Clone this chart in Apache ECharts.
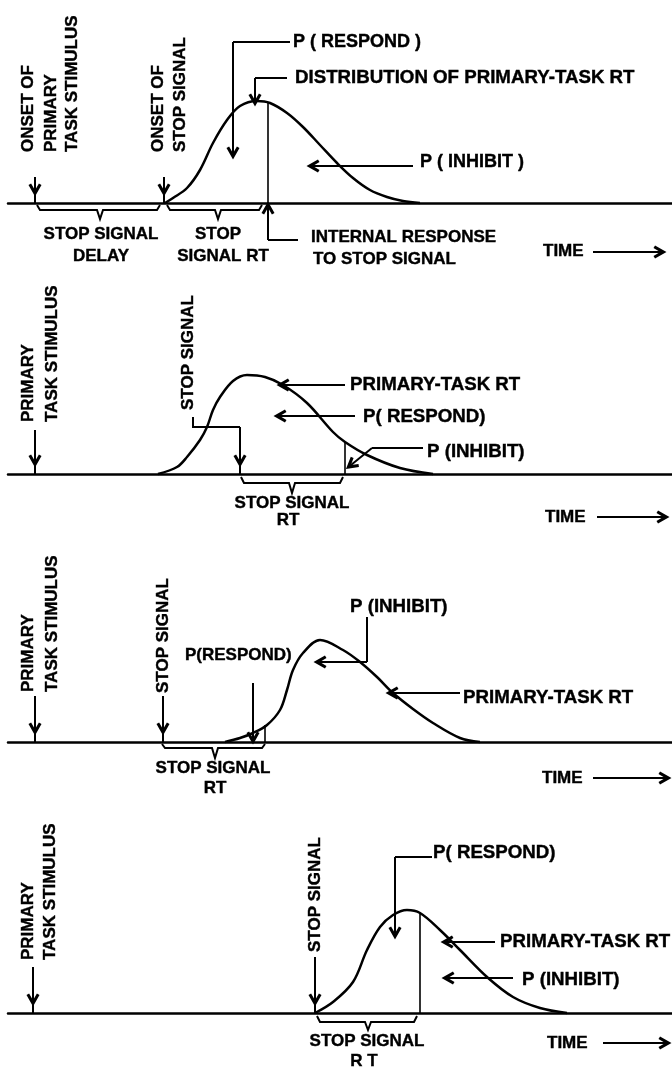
<!DOCTYPE html>
<html>
<head>
<meta charset="utf-8">
<title>Stop signal race model</title>
<script src="https://cdn.jsdelivr.net/npm/echarts@6/dist/echarts.min.js"></script>
<style>
  html, body { margin: 0; padding: 0; background: #fff; }
  #chart { width: 672px; height: 1069px; }
</style>
</head>
<body>
<div id="chart"></div>
<script>
// time runs left -> right (same scale in all four panels), height = relative density
const stimulusOnset = [35, 35, 35, 33];
const stopSignalOnset = [164, 240, 163, 315];
const internalResponse = [268, 345, 265, 420];
const responseHeight = [100, 32, 17, 100];

// primary-task RT distributions
const rtCurve1 = [[165,0],[173,5],[187,15],[200,33],[213,60],[227,83],[240,97],[257,102],[270,100],[287,90],[303,76],[320,58],[337,40],[353,25],[370,13],[387,6],[403,2],[420,0]];
const rtCurve2 = [[158,0],[177,7],[187,17],[200,34],[207,47],[213,64],[220,77],[233,93],[247,99],[265,97],[283,89],[307,71],[333,42],[345,32],[367,19],[400,6],[433,0]];
const rtCurve3 = [[225,0],[240,4],[253,9],[267,17],[280,32],[287,52],[293,72],[303,89],[320,102],[343,92],[360,80],[377,65],[393,49],[413,33],[433,19],[460,4],[480,0]];
const rtCurve4 = [[315,0],[333,11],[353,31],[367,63],[380,86],[393,98],[407,103],[420,100],[440,83],[460,63],[487,36],[513,16],[540,5],[567,0]];

const baseLines = [203, 474, 742, 1013];
const yMin = -56, yMax = 200;
const ink = '#000';
const arrowHead = 'path://M5,0 L10,9 L8,10.2 L5,5 L2,10.2 L0,9 Z';
const BIG = 18.7; // leader-line labels are lettered wider

// annotation layout per panel (data coords)
const panels = [
  {
    curve: rtCurve1,
    vtexts: [['ONSET OF', 28, 51], ['PRIMARY', 51, 51], ['TASK STIMULUS', 72, 51], ['ONSET OF', 158, 51], ['STOP SIGNAL', 180, 51]],
    htexts: [['P ( RESPOND )', 293, 161, 'left', 18], ['DISTRIBUTION OF PRIMARY-TASK RT', 295, 125, 'left', BIG], ['P ( INHIBIT )', 420, 41, 'left', 18],
             ['STOP SIGNAL', 101, -31, 'center'], ['DELAY', 101, -53, 'center'], ['STOP', 218, -31, 'center'], ['SIGNAL RT', 223, -53, 'center'],
             ['INTERNAL RESPONSE', 311, -34, 'left'], ['TO STOP SIGNAL', 313, -56, 'left'], ['TIME', 543, -48, 'left']],
    paths: [[[290,161],[233,161]], [[287,125],[255,125]], [[298,-37],[268,-37]],
            [[37,-2],[40,-7],[97,-7],[100,-16],[103,-7],[157,-7],[160,-2]],
            [[167,-2],[170,-7],[215,-7],[218,-16],[221,-7],[259,-7],[262,-2]]],
    arrows: [[[233,161],[233,50]], [[255,125],[255,103]], [[413,37],[313,37]], [[268,-37],[268,-5]], [[593,-49],[660,-49]]],
    stimTop: 26, stopTop: 26
  },
  {
    curve: rtCurve2,
    vtexts: [['PRIMARY', 28, 52], ['TASK STIMULUS', 52, 52], ['STOP SIGNAL', 188, 64]],
    htexts: [['PRIMARY-TASK RT', 350, 89, 'left', BIG], ['P( RESPOND)', 363, 57, 'left', BIG], ['P (INHIBIT)', 427, 22, 'left', BIG],
             ['STOP SIGNAL', 292, -29, 'center'], ['RT', 288, -46, 'center'], ['TIME', 545, -43, 'left']],
    paths: [[[193,57],[193,47],[240,47]], [[423,26],[372,26]],
            [[241,-3],[244,-9],[289,-9],[292,-19],[295,-9],[340,-9],[343,-3]]],
    arrows: [[[345,89],[283,89]], [[355,58],[280,58]], [[372,26],[351,9]], [[597,-43],[663,-43]]],
    stimTop: 44, stopTop: 47
  },
  {
    curve: rtCurve3,
    vtexts: [['PRIMARY', 28, 50], ['TASK STIMULUS', 52, 50], ['STOP SIGNAL', 163, 49]],
    htexts: [['P(RESPOND)', 185, 87, 'left'], ['P (INHIBIT)', 350, 135, 'left', BIG], ['PRIMARY-TASK RT', 463, 44, 'left', BIG],
             ['STOP SIGNAL', 213, -26, 'center'], ['RT', 215, -46, 'center'], ['TIME', 542, -36, 'left']],
    paths: [[[367,125],[367,80]], [[162,-2],[165,-6],[212,-6],[215,-16],[218,-6],[262,-6],[265,-2]]],
    arrows: [[[253,59],[253,4]], [[367,80],[320,80]], [[460,49],[392,49]], [[593,-36],[665,-36]]],
    stimTop: 46, stopTop: 46
  },
  {
    curve: rtCurve4,
    vtexts: [['PRIMARY', 28, 53], ['TASK STIMULUS', 50, 53], ['STOP SIGNAL', 315, 61]],
    htexts: [['P( RESPOND)', 433, 160, 'left', BIG], ['PRIMARY-TASK RT', 500, 71, 'left', BIG], ['P (INHIBIT)', 522, 33, 'left', BIG],
             ['STOP SIGNAL', 367, -28, 'center'], ['R T', 364, -48, 'center'], ['TIME', 547, -30, 'left']],
    paths: [[[432,156],[395,156]], [[317,-3],[320,-9],[365,-9],[368,-17],[371,-9],[414,-9],[417,-3]]],
    arrows: [[[395,156],[395,80]], [[495,71],[447,71]], [[513,35],[448,35]], [[603,-30],[665,-30]]],
    stimTop: 46, stopTop: 56
  }
];

const textStyle = {
  fontFamily: 'Liberation Sans, Arial, sans-serif', fontWeight: 'bold', fontSize: 17,
  color: ink, textBorderColor: ink, textBorderWidth: 0.4, opacity: 1
};

const grids = [], xAxes = [], yAxes = [], series = [];

panels.forEach((p, i) => {
  grids.push({ left: 8, right: 0, top: baseLines[i] - yMax, height: yMax - yMin });
  xAxes.push({
    type: 'value', gridIndex: i, min: 8, max: 672,
    axisLine: { show: true, onZero: true, lineStyle: { color: ink, width: 2.5 } },
    axisTick: { show: false }, axisLabel: { show: false }, splitLine: { show: false }
  });
  yAxes.push({ type: 'value', gridIndex: i, min: yMin, max: yMax, show: false, splitLine: { show: false } });

  const ax = { xAxisIndex: i, yAxisIndex: i };

  series.push({
    ...ax, type: 'line', data: p.curve, smooth: 0.35, showSymbol: false, clip: false, silent: true,
    lineStyle: { color: ink, width: 2.5 }
  });

  // stimulus / stop-signal ticks on the baseline
  const ticks = [
    [[stimulusOnset[i], 11], [stimulusOnset[i], 0]],
    [[stopSignalOnset[i], 11], [stopSignalOnset[i], 0]]
  ];
  series.push({
    ...ax, type: 'lines', coordinateSystem: 'cartesian2d', polyline: true, clip: false, silent: true,
    lineStyle: { color: ink, width: 2, opacity: 1 },
    data: p.paths.concat(ticks).map(c => ({ coords: c }))
  });
  // internal response to the stop signal
  series.push({
    ...ax, type: 'lines', coordinateSystem: 'cartesian2d', polyline: true, clip: false, silent: true,
    lineStyle: { color: ink, width: 1.6, opacity: 1 },
    data: [{ coords: [[internalResponse[i], 0], [internalResponse[i], responseHeight[i]]] }]
  });

  const arrows = p.arrows.concat([
    [[stimulusOnset[i], p.stimTop], [stimulusOnset[i], 13]],
    [[stopSignalOnset[i], p.stopTop], [stopSignalOnset[i], 13]]
  ]);
  series.push({
    ...ax, type: 'lines', coordinateSystem: 'cartesian2d', clip: false, silent: true,
    symbol: ['none', arrowHead], symbolSize: 13,
    lineStyle: { color: ink, width: 2, opacity: 1 },
    data: arrows.map(c => ({ coords: c }))
  });

  const labels = p.vtexts.map(t => ({
    name: t[0], value: [t[1], t[2]],
    label: { rotate: 90, align: 'left', verticalAlign: 'middle' }
  })).concat(p.htexts.map(t => ({
    name: t[0], value: [t[1], t[2]],
    label: { align: t[3], verticalAlign: 'middle', fontSize: t[4] || 17 }
  })));
  series.push({
    ...ax, type: 'scatter', symbolSize: 1, silent: true,
    itemStyle: { color: '#fff', opacity: 0 },
    label: { show: true, position: 'inside', formatter: '{b}', ...textStyle },
    data: labels
  });
});

const chart = echarts.init(document.getElementById('chart'));
chart.setOption({
  backgroundColor: '#fff',
  animation: false,
  grid: grids,
  xAxis: xAxes,
  yAxis: yAxes,
  series: series
});
</script>
</body>
</html>
